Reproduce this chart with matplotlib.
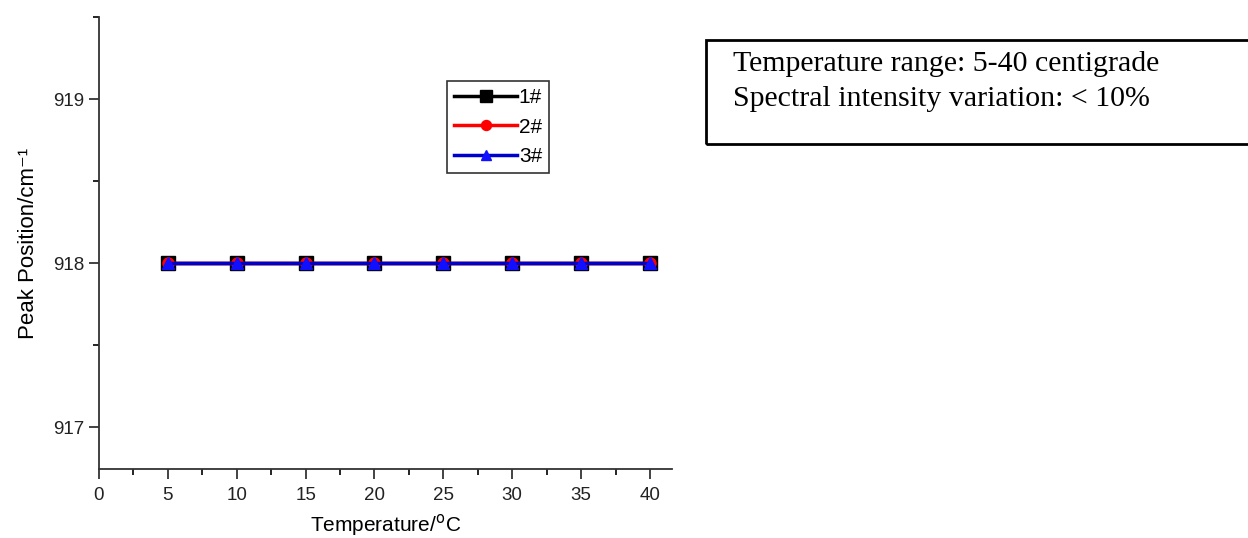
import matplotlib
matplotlib.use('Agg')
import matplotlib.pyplot as plt
from matplotlib.patches import Rectangle
from matplotlib.ticker import MultipleLocator

# temperature steps and peak positions of the three samples
temps = [5, 10, 15, 20, 25, 30, 35, 40]
peak_1 = [918, 918, 918, 918, 918, 918, 918, 918]
peak_2 = [918, 918, 918, 918, 918, 918, 918, 918]
peak_3 = [918, 918, 918, 918, 918, 918, 918, 918]
labels = ['1#', '2#', '3#']
note_lines = ['Temperature range: 5-40 centigrade',
              'Spectral intensity variation: < 10%']

plt.rcParams['font.family'] = ['Liberation Sans', 'DejaVu Sans']

fig = plt.figure(figsize=(12.48, 5.38), dpi=100)
ax = fig.add_axes([0.0793, 0.1283, 0.4592, 0.8401])

ax.plot(temps, peak_1, color='black', lw=2.5, marker='s', markersize=10,
        markerfacecolor='black', markeredgecolor='black', label=labels[0])
ax.plot(temps, peak_2, color='red', lw=2.5, marker='o', markersize=8,
        markerfacecolor='red', markeredgecolor='red', label=labels[1])
ax.plot(temps, peak_3, color='#0000cc', lw=2.5, marker='^', markersize=8,
        markerfacecolor='#1010ff', markeredgecolor='#1010ff', label=labels[2])

ax.set_xlim(0, 41.6)
ax.set_ylim(916.745, 919.5)
ax.xaxis.set_major_locator(MultipleLocator(5))
ax.xaxis.set_minor_locator(MultipleLocator(2.5))
ax.yaxis.set_major_locator(MultipleLocator(1))
ax.yaxis.set_minor_locator(MultipleLocator(0.5))
ax.tick_params(which='major', direction='out', length=7, width=1.2,
               labelsize=13.5, colors='#222222')
ax.tick_params(axis='x', which='major', pad=6)
ax.tick_params(which='minor', direction='out', length=4, width=1.2)

for side in ['top', 'right']:
    ax.spines[side].set_visible(False)
for side in ['left', 'bottom']:
    ax.spines[side].set_linewidth(1.3)
    ax.spines[side].set_color('#333333')

ax.set_xlabel('Temperature/$^{\\rm o}$C', fontsize=15, labelpad=6)
ax.set_ylabel('Peak Position/cm\u207b\u00b9', fontsize=16, labelpad=10)

leg = ax.legend(loc='upper left', bbox_to_anchor=(447 / 1248, 1 - 81 / 538),
                bbox_transform=fig.transFigure, fontsize=15, handlelength=3.0,
                handletextpad=0.1, labelspacing=0.5, borderpad=0.35,
                borderaxespad=0, fancybox=False, framealpha=1, markerscale=0.9)
leg.get_frame().set_edgecolor('#333333')
leg.get_frame().set_linewidth(1.2)

# note box on the right, cut off by the figure edge
box = Rectangle((706 / 1248, 1 - 144 / 538), 0.5, 104 / 538,
                transform=fig.transFigure, fill=False, edgecolor='black',
                linewidth=2, clip_on=False)
fig.patches.append(box)
fig.text(733 / 1248, 1 - 64 / 538, note_lines[0], fontsize=21.5,
         family='Liberation Serif', va='center', ha='left')
fig.text(733 / 1248, 1 - 99 / 538, note_lines[1], fontsize=21.5,
         family='Liberation Serif', va='center', ha='left')

fig.savefig('out.png', dpi=100)
